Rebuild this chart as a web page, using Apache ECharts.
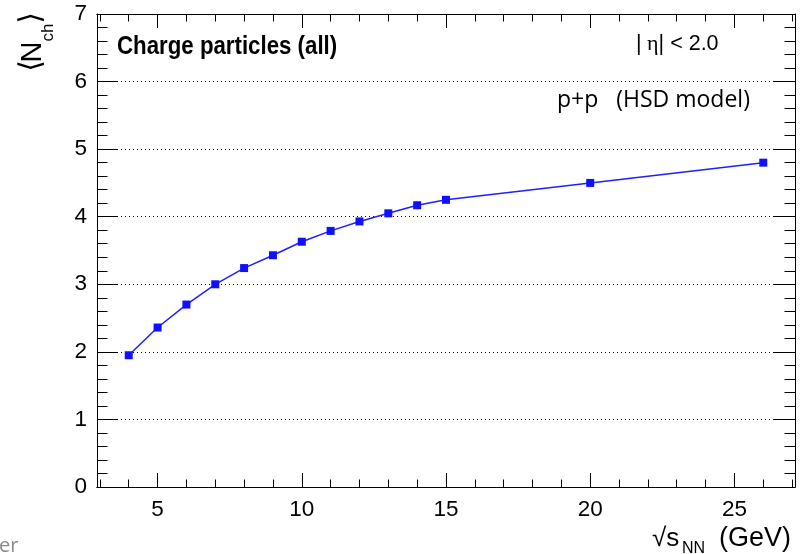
<!DOCTYPE html>
<html>
<head>
<meta charset="utf-8">
<script src="https://cdn.jsdelivr.net/npm/echarts@6/dist/echarts.min.js"></script>
<style>
html,body{margin:0;padding:0;background:#fff;}
#chart{width:805px;height:554px;}
</style>
</head>
<body>
<div id="chart"></div>
<script>
// Data
var energies = [4, 5, 6, 7, 8, 9, 10, 11, 12, 13, 14, 15, 20, 26];
var nch = [1.95, 2.36, 2.70, 3.00, 3.24, 3.43, 3.63, 3.79, 3.93, 4.05, 4.17, 4.25, 4.50, 4.80];
var xMajorTicks = [5, 10, 15, 20, 25];
var xMinorTicks = [3, 4, 6, 7, 8, 9, 11, 12, 13, 14, 16, 17, 18, 19, 21, 22, 23, 24, 26, 27];
var xMin = 2.9, xMax = 27.1;
var yMin = 0, yMax = 7;

var seriesData = energies.map(function (e, i) { return [e, nch[i]]; });

var FONT = '"Liberation Sans", Arial, Helvetica, sans-serif';
var black = '#000';

function xAxisDef(pos, ticks, len, showLabel) {
  return {
    type: 'value', position: pos, min: xMin, max: xMax,
    axisLine: { show: true, lineStyle: { color: black, width: 1 } },
    axisTick: { show: true, inside: true, length: len, customValues: ticks, lineStyle: { color: black, width: 1 } },
    axisLabel: showLabel ? { show: true, customValues: ticks, color: black, fontSize: 22.5, fontFamily: FONT, margin: 11 } : { show: false },
    splitLine: { show: false }
  };
}
function yAxisDef(pos, showLabel, showSplit) {
  return {
    type: 'value', position: pos, min: yMin, max: yMax, interval: 1,
    axisLine: { show: true, lineStyle: { color: black, width: 1 } },
    axisTick: { show: true, inside: true, length: 21, lineStyle: { color: black, width: 1 } },
    minorTick: { show: true, splitNumber: 5, length: 10.5, lineStyle: { color: black, width: 1 } },
    axisLabel: showLabel ? { show: true, color: black, fontSize: 22.5, fontFamily: FONT, margin: 10 } : { show: false },
    splitLine: showSplit ? { show: true, showMinLine: false, showMaxLine: false, lineStyle: { color: black, width: 1, type: [1, 3] } } : { show: false },
    minorSplitLine: { show: false }
  };
}

var chart = echarts.init(document.getElementById('chart'), null, { renderer: 'canvas' });
chart.setOption({
  animation: false,
  backgroundColor: '#fff',
  grid: { left: 97, right: 10, top: 14, bottom: 67 },
  xAxis: [
    xAxisDef('bottom', xMajorTicks, 14, true),
    xAxisDef('bottom', xMinorTicks, 7.5, false),
    xAxisDef('top', xMajorTicks, 14, false),
    xAxisDef('top', xMinorTicks, 7.5, false)
  ],
  yAxis: [
    yAxisDef('left', true, true),
    yAxisDef('right', false, false)
  ],
  series: [{
    type: 'line',
    xAxisIndex: 0, yAxisIndex: 0,
    data: seriesData,
    symbol: 'rect', symbolSize: 8,
    lineStyle: { color: '#1f1fff', width: 1.5 },
    itemStyle: { color: '#1010ff' }
  }],
  graphic: [
    // Title inside plot
    { type: 'text', x: 117, y: 47, scaleX: 0.84, z: 100,
      style: { text: 'Charge particles (all)', font: 'bold 26.5px ' + FONT, fill: black, align: 'left', verticalAlign: 'middle' } },
    // |eta| < 2.0
    { type: 'text', x: 636, y: 44, z: 100,
      style: { text: '{a||}{e| η}{a||}{a| < 2.0}', align: 'left', verticalAlign: 'middle', fill: black,
        rich: { a: { fontFamily: FONT, fontSize: 21.5, fill: black }, e: { fontFamily: '"Liberation Serif", "DejaVu Serif", serif', fontSize: 22, fill: black } } } },
    // p+p (HSD model)
    { type: 'text', x: 557, y: 100, z: 100,
      style: { text: 'p+p   (HSD model)', font: '23px "Open Sans", sans-serif', fill: black, align: 'left', verticalAlign: 'middle' } },
    // x-axis title
    { type: 'text', x: 652, y: 539, z: 100,
      style: { text: '√s', font: '26px ' + FONT, fill: black, align: 'left', verticalAlign: 'middle' } },
    { type: 'text', x: 682, y: 549, z: 100,
      style: { text: 'NN', font: '16px ' + FONT, fill: black, align: 'left', verticalAlign: 'middle' } },
    { type: 'text', x: 719, y: 539, z: 100,
      style: { text: '(GeV)', font: '27px ' + FONT, fill: black, align: 'left', verticalAlign: 'middle' } },
    // y-axis title (rotated)
    { type: 'text', x: 32, y: 66, rotation: Math.PI / 2, z: 100,
      style: { text: '⟨', font: '30px "DejaVu Sans", sans-serif', fill: black, align: 'center', verticalAlign: 'middle' } },
    { type: 'text', x: 33, y: 52, rotation: Math.PI / 2, z: 100,
      style: { text: 'N', font: '29px ' + FONT, fill: black, align: 'center', verticalAlign: 'middle' } },
    { type: 'text', x: 48, y: 32.5, rotation: Math.PI / 2, z: 100,
      style: { text: 'ch', font: '17px ' + FONT, fill: black, align: 'center', verticalAlign: 'middle' } },
    { type: 'text', x: 32, y: 18, rotation: Math.PI / 2, z: 100,
      style: { text: '⟩', font: '30px "DejaVu Sans", sans-serif', fill: black, align: 'center', verticalAlign: 'middle' } },
    // cropped text at bottom-left
    { type: 'text', x: -1, y: 546, z: 100,
      style: { text: 'er', font: '20px "Open Sans", sans-serif', fill: '#8a8a8a', align: 'left', verticalAlign: 'middle' } }
  ]
});
</script>
</body>
</html>
